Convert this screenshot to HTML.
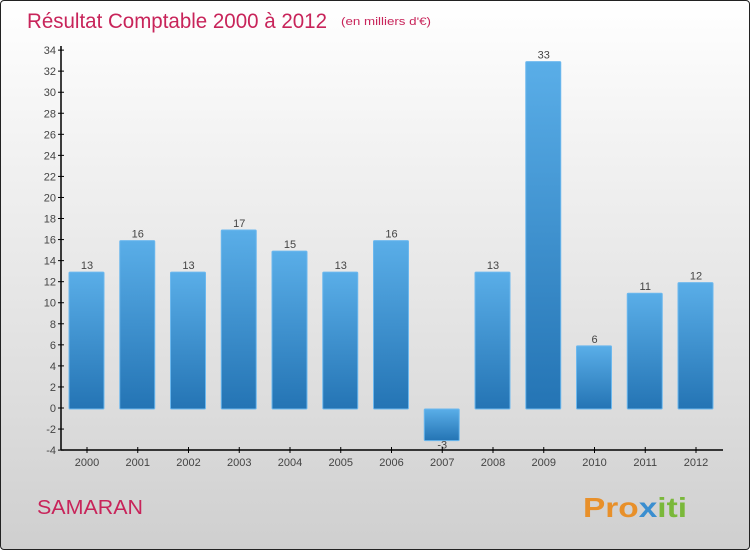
<!DOCTYPE html>
<html><head><meta charset="utf-8"><style>
body{margin:0}
#c{position:relative;width:748px;height:548px;border:1px solid #222;border-radius:4px;background:linear-gradient(#ffffff,#f3f3f3 25%,#dcdcdc 75%,#cfcfcf);overflow:hidden;font-family:"Liberation Sans",sans-serif}
</style></head><body>
<div id="c">
<svg width="748" height="548">
<defs><linearGradient id="g" x1="0" y1="0" x2="0" y2="1"><stop offset="0" stop-color="#5aaee8"/><stop offset="1" stop-color="#2474b4"/></linearGradient></defs>
<text x="26" y="27" font-size="21" fill="#c8245a" textLength="300" lengthAdjust="spacingAndGlyphs">Résultat Comptable 2000 à 2012</text>
<text x="340" y="24" font-size="11" fill="#c8245a" textLength="90" lengthAdjust="spacingAndGlyphs">(en milliers d'€)</text>
<text x="36" y="513" font-size="20" fill="#c8245a" textLength="106" lengthAdjust="spacingAndGlyphs">SAMARAN</text>
<text x="582" y="516" font-size="28" font-weight="bold" fill="#e8902a" textLength="104" lengthAdjust="spacingAndGlyphs">Pro<tspan fill="#3a8ed0">x</tspan><tspan fill="#7ab83a">iti</tspan></text>
<g id="plot"></g>
</svg>
</div>
<script>
const years=["2000","2001","2002","2003","2004","2005","2006","2007","2008","2009","2010","2011","2012"];
const values=[13,16,13,17,15,13,16,-3,13,33,6,11,12];
const yTicks=[-4,-2,0,2,4,6,8,10,12,14,16,18,20,22,24,26,28,30,32,34];
const NS="http://www.w3.org/2000/svg";
const g=document.getElementById('plot');
const y=v=>408-(v)*(400/38);
const x=i=>85+i*50.75;
function mk(t,a){const e=document.createElementNS(NS,t);for(const k in a)e.setAttribute(k,a[k]);g.appendChild(e);return e;}
let ax=mk('line',{x1:60,y1:45,x2:60,y2:449,stroke:'#000','stroke-width':1.5});


let bx=mk('line',{x1:60,y1:449,x2:722,y2:449,stroke:'#000','stroke-width':1.5});


yTicks.forEach(v=>{
 const t=mk('line',{x1:57,y1:y(v)-1,x2:63,y2:y(v)-1,stroke:'#000'});
 
 
 const l=mk('text',{x:55,y:y(v)+3,'font-size':11,'text-anchor':'end',fill:'#444'});
 l.textContent=v;
 
 
});
years.forEach((yr,i)=>{
 const v=values[i];
 const top=Math.min(y(v),y(0)),h=Math.abs(y(v)-y(0));
 const r=mk('rect',{x:x(i)-17,y:top,width:35,height:h,fill:'url(#g)',stroke:'#6cb8ee','stroke-width':1,rx:1});
 
 
 const vl=mk('text',{x:x(i)+1,y:v>=0?y(v)-3:y(v)+8,'font-size':11,'text-anchor':'middle',fill:'#444'});
 vl.textContent=v;
 
 
 const t=mk('line',{x1:x(i)+1,y1:446,x2:x(i)+1,y2:452,stroke:'#000'});
 
 
 const l=mk('text',{x:x(i)+1,y:465,'font-size':11,'text-anchor':'middle',fill:'#444'});
 l.textContent=yr;
 
 
});
</script>
</body></html>
